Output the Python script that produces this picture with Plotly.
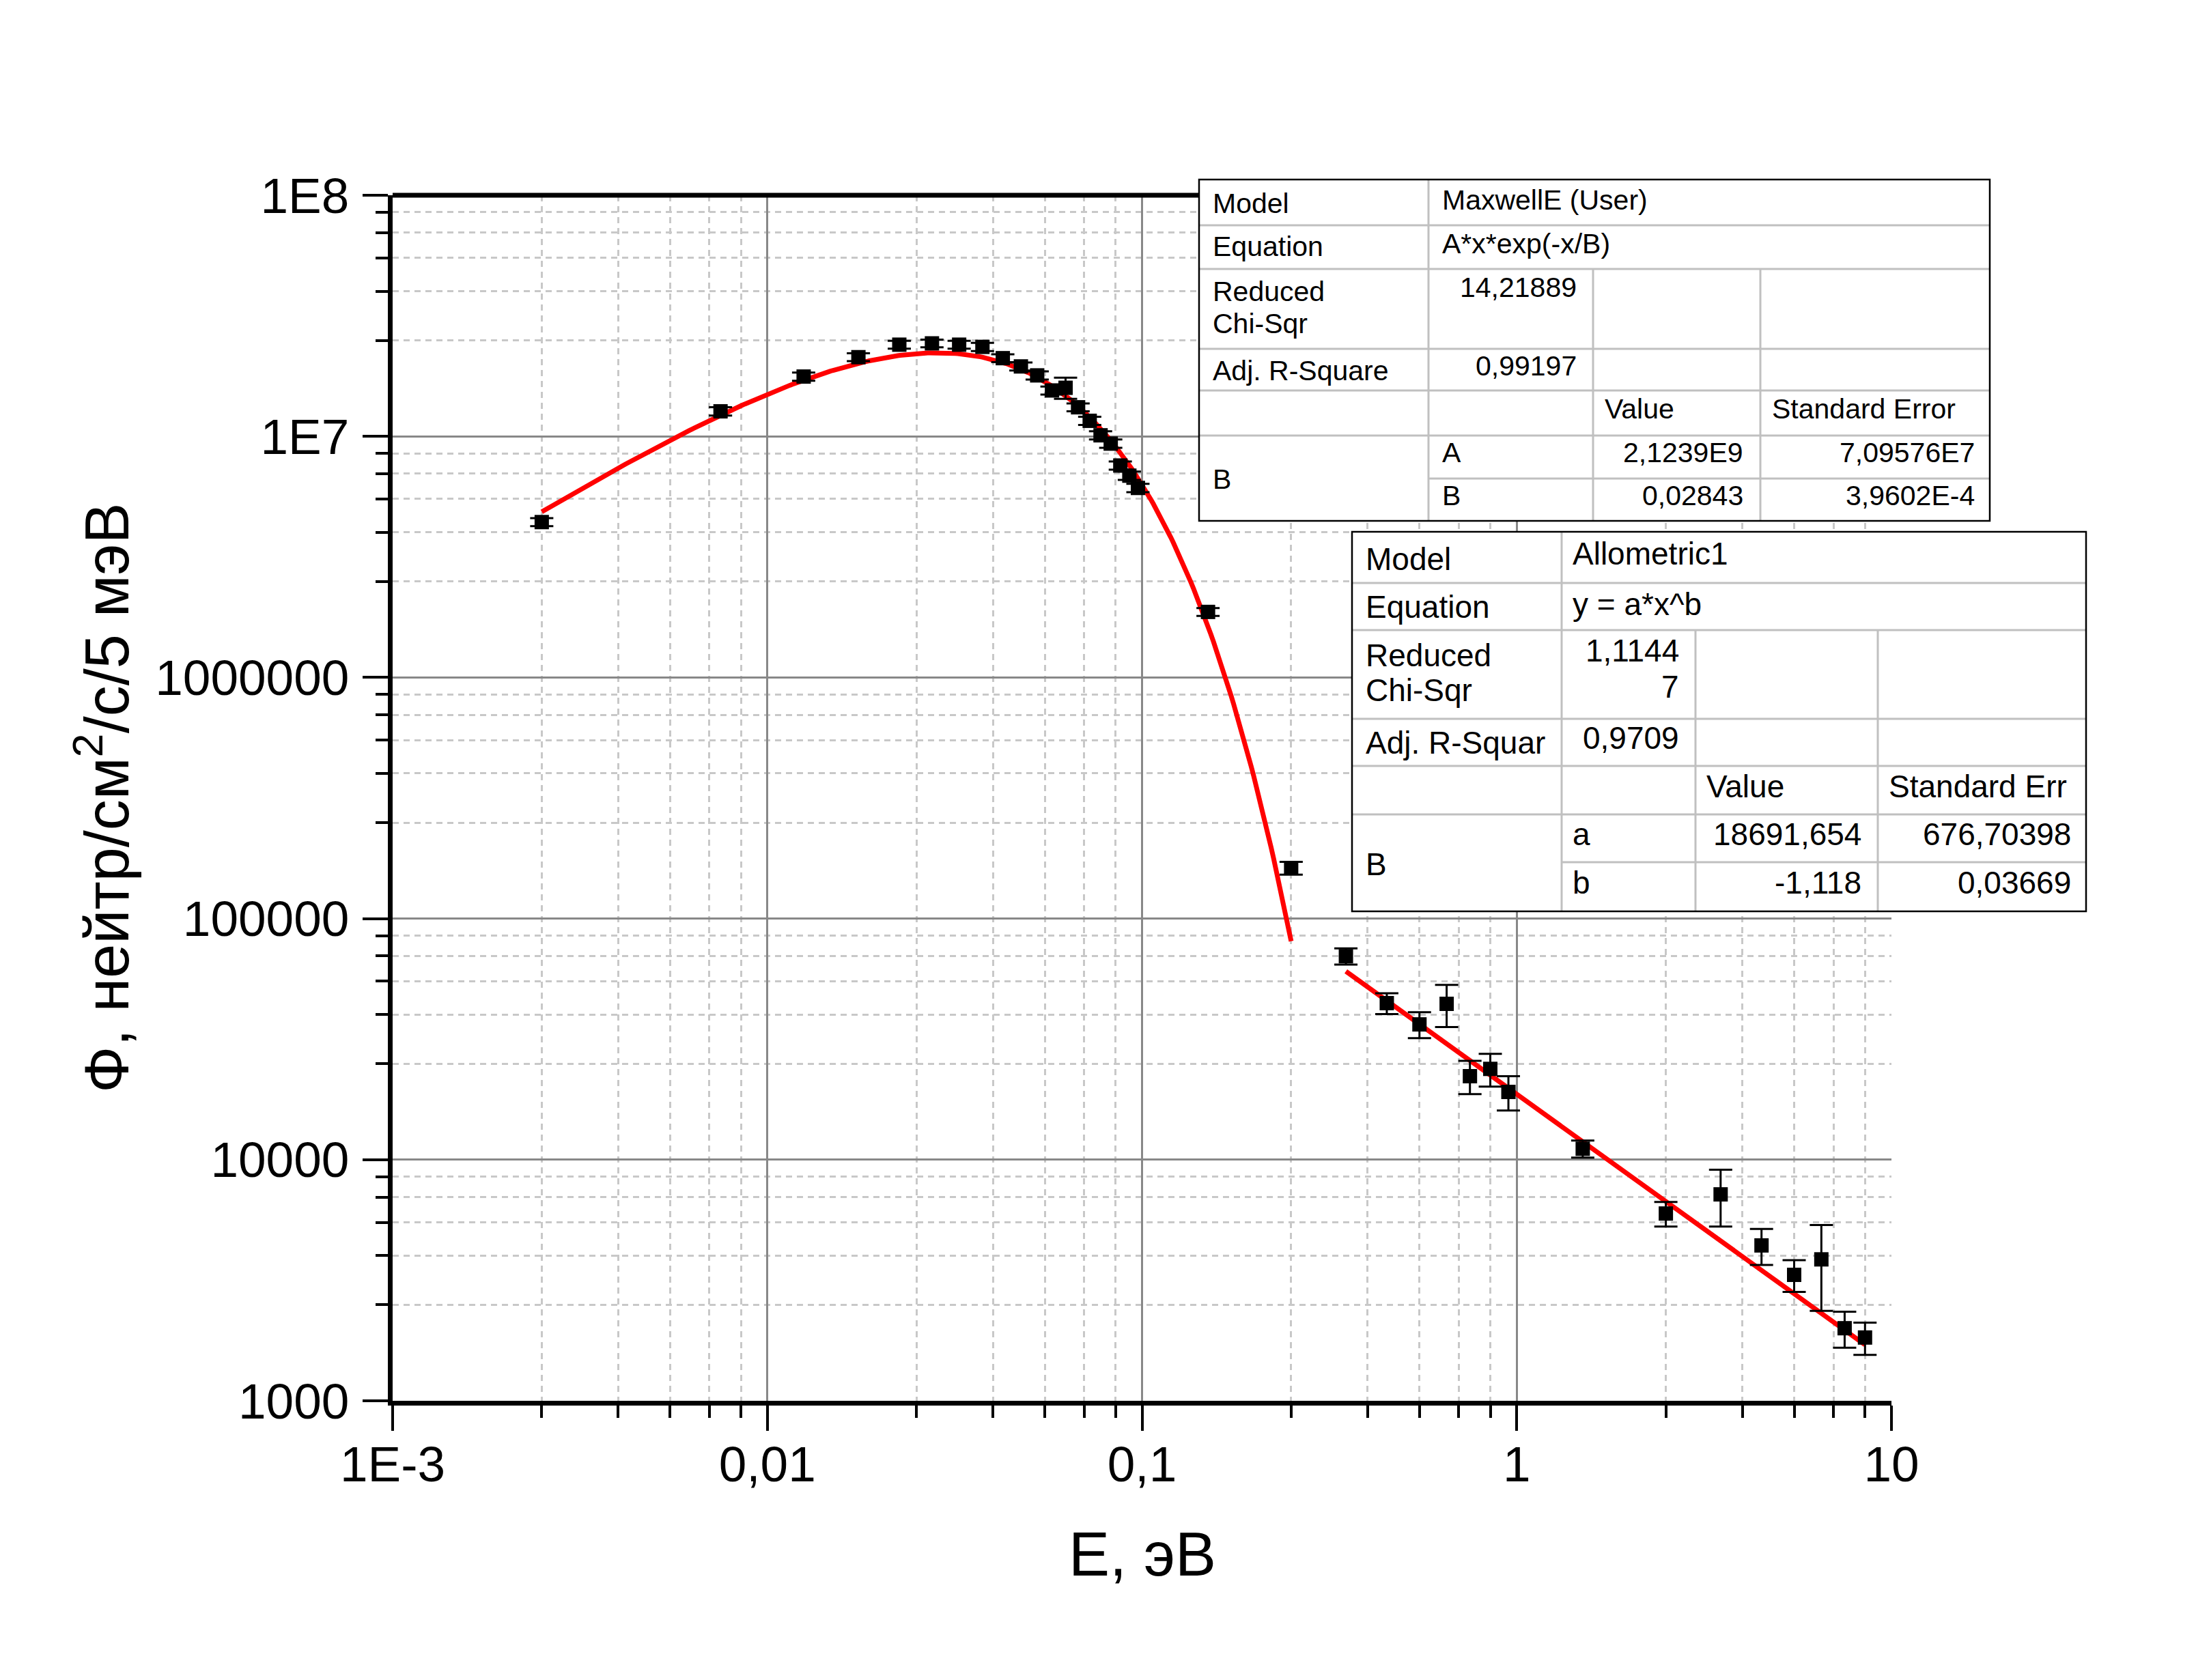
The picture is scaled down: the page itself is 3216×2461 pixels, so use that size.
import numpy as np
import plotly.graph_objects as go

# ---------------- data ----------------
energy = [0.0025, 0.0075, 0.0125, 0.0175, 0.0225, 0.0275, 0.0325, 0.0375, 0.0425, 0.0475,
          0.0525, 0.0575, 0.0625, 0.0675, 0.0725, 0.0775, 0.0825, 0.0875, 0.0925, 0.0975,
          0.15, 0.25, 0.35, 0.45, 0.55, 0.65, 0.75, 0.85, 0.95,
          1.5, 2.5, 3.5, 4.5, 5.5, 6.5, 7.5, 8.5]
flux = [4.41e6, 1.27e7, 1.77e7, 2.13e7, 2.40e7, 2.43e7, 2.40e7, 2.35e7, 2.11e7, 1.95e7,
        1.79e7, 1.55e7, 1.59e7, 1.32e7, 1.16e7, 1.01e7, 9.33e6, 7.57e6, 6.87e6, 6.11e6,
        1.87e6, 1.62e5, 6.98e4, 4.46e4, 3.64e4, 4.43e4, 2.22e4, 2.38e4, 1.91e4,
        1.11e4, 5.98e3, 7.18e3, 4.41e3, 3.33e3, 3.86e3, 2.00e3, 1.83e3]
flux_err = [1.7e5, 5.0e5, 7.0e5, 8.0e5, 9.0e5, 9.0e5, 9.0e5, 9.0e5, 8.0e5, 7.5e5,
            7.0e5, 6.0e5, 1.6e6, 5.0e5, 4.5e5, 4.0e5, 3.7e5, 3.0e5, 2.7e5, 2.4e5,
            7.0e4, 1.0e4, 5.4e3, 4.4e3, 4.5e3, 8.8e3, 3.5e3, 3.7e3, 3.1e3,
            9.0e2, 7.0e2, 1.9e3, 7.5e2, 5.0e2, 1.5e3, 3.4e2, 2.8e2]

# fit parameters shown in the tables
maxwell_A = 2.1239e9
maxwell_B = 0.02843
maxwell_range = [0.0025, 0.25]
allo_a = 18691.654
allo_b = -1.118
allo_range = [0.35, 8.5]

x_tickvals = [0.001, 0.01, 0.1, 1, 10]
x_ticktext = ["1E-3", "0,01", "0,1", "1", "10"]
y_tickvals = [1e3, 1e4, 1e5, 1e6, 1e7, 1e8]
y_ticktext = ["1000", "10000", "100000", "1000000", "1E7", "1E8"]
minor_mult = [2.5, 4, 5.5, 7, 8.5]

x_title = "E, эВ"
y_title = "Ф, нейтр/см<sup>2</sup>/с/5 мэВ"

# ---------------- figure ----------------
W_PX, H_PX = 3216, 2461
PAGE_OFF = 8                      # default body margin of the html page
PLOT_L, PLOT_R, PLOT_T, PLOT_B = 575, 2770, 286, 2052   # plot area in screen px
L = PLOT_L - PAGE_OFF
T = PLOT_T - PAGE_OFF
PW = PLOT_R - PLOT_L
PH = PLOT_B - PLOT_T
R = W_PX - L - PW
B = H_PX - T - PH
FONT = "Liberation Sans, Arial, sans-serif"


def fx(px):
    return (px - PLOT_L) / PW


def fy(py):
    return (PLOT_B - py) / PH


fig = go.Figure()

# fit curves (model functions with the fitted parameters)
xm = np.logspace(np.log10(maxwell_range[0]), np.log10(maxwell_range[1]), 300)
ym = maxwell_A * xm * np.exp(-xm / maxwell_B)
fig.add_trace(go.Scatter(x=xm, y=ym, mode="lines", line=dict(color="#ff0000", width=7),
                         showlegend=False, hoverinfo="skip"))
xa = np.logspace(np.log10(allo_range[0]), np.log10(allo_range[1]), 100)
ya = allo_a * xa ** allo_b
fig.add_trace(go.Scatter(x=xa, y=ya, mode="lines", line=dict(color="#ff0000", width=7),
                         showlegend=False, hoverinfo="skip"))

fig.add_trace(go.Scatter(
    x=energy, y=flux, mode="markers",
    marker=dict(symbol="square", size=21, color="black"),
    error_y=dict(type="data", array=flux_err, symmetric=True, color="black",
                 thickness=3, width=17),
    showlegend=False))

x_minor = [m * 10.0 ** k for k in range(-3, 1) for m in minor_mult]
y_minor = [m * 10.0 ** k for k in range(3, 8) for m in minor_mult]

axis_common = dict(
    showline=True, linecolor="black", linewidth=7,
    ticks="outside", ticklen=37, tickwidth=4, tickcolor="black",
    showgrid=True, gridcolor="#888888", gridwidth=3,
    zeroline=False,
    tickfont=dict(family=FONT, size=73, color="black"),
)

fig.update_xaxes(type="log", range=[-3, 1], tickmode="array", tickvals=x_tickvals,
                 ticktext=x_ticktext, ticklabelstandoff=-14,
                 minor=dict(tickmode="array", tickvals=x_minor, ticks="outside", ticklen=18,
                            tickwidth=4, tickcolor="black", showgrid=True,
                            gridcolor="#c8c8c8", gridwidth=2.5, griddash="9px,7px"),
                 **axis_common)
fig.update_yaxes(type="log", range=[3, 8], tickmode="array", tickvals=y_tickvals,
                 ticktext=y_ticktext, ticklabelstandoff=5,
                 minor=dict(tickmode="array", tickvals=y_minor, ticks="outside", ticklen=18,
                            tickwidth=4, tickcolor="black", showgrid=True,
                            gridcolor="#c8c8c8", gridwidth=2.5, griddash="9px,7px"),
                 **axis_common)

shapes = []
# top border line of the frame
shapes.append(dict(type="line", xref="paper", yref="paper", x0=0, x1=1, y0=1, y1=1,
                   line=dict(color="black", width=7), layer="above"))

GRAY = "#c0c0c0"


def add_table(left, right, top, bottom, cols, rows, split_row):
    c1, c2, c3 = cols
    shapes.append(dict(type="rect", xref="paper", yref="paper",
                       x0=fx(left), x1=fx(right), y0=fy(bottom), y1=fy(top),
                       fillcolor="white", line=dict(width=0), layer="above"))
    for r in rows:
        x0 = c1 if r == split_row else left
        shapes.append(dict(type="line", xref="paper", yref="paper", x0=fx(x0), x1=fx(right),
                           y0=fy(r), y1=fy(r), line=dict(color=GRAY, width=3), layer="above"))
    shapes.append(dict(type="line", xref="paper", yref="paper", x0=fx(c1), x1=fx(c1),
                       y0=fy(top), y1=fy(bottom), line=dict(color=GRAY, width=3), layer="above"))
    for c in (c2, c3):
        shapes.append(dict(type="line", xref="paper", yref="paper", x0=fx(c), x1=fx(c),
                           y0=fy(rows[1]), y1=fy(bottom), line=dict(color=GRAY, width=3),
                           layer="above"))
    shapes.append(dict(type="rect", xref="paper", yref="paper",
                       x0=fx(left), x1=fx(right), y0=fy(bottom), y1=fy(top),
                       line=dict(color="black", width=2.5), layer="above"))


add_table(1756, 2914, 263, 763, (2092, 2333, 2578), [330, 394, 511, 572, 638, 701], 701)
add_table(1980, 3055, 779, 1335, (2287, 2483, 2750), [854, 923, 1053, 1122, 1193, 1263], 1263)

annotations = []


def txt(s, px, py, anchor, size):
    annotations.append(dict(text=s, xref="paper", yref="paper", x=fx(px), y=fy(py),
                            xanchor=anchor, yanchor="middle", showarrow=False,
                            font=dict(family=FONT, size=size, color="black")))


# table 1 (MaxwellE)
s1 = 41
txt("Model", 1774, 298, "left", s1)
txt("MaxwellE (User)", 2110, 293, "left", s1)
txt("Equation", 1774, 361, "left", s1)
txt("A*x*exp(-x/B)", 2110, 357, "left", s1)
txt("Reduced", 1774, 427, "left", s1)
txt("Chi-Sqr", 1774, 474, "left", s1)
txt("14,21889", 2311, 421, "right", s1)
txt("Adj. R-Square", 1774, 543, "left", s1)
txt("0,99197", 2311, 536, "right", s1)
txt("Value", 2348, 599, "left", s1)
txt("Standard Error", 2593, 599, "left", s1)
txt("A", 2110, 663, "left", s1)
txt("2,1239E9", 2555, 663, "right", s1)
txt("7,09576E7", 2894, 663, "right", s1)
txt("B", 1774, 702, "left", s1)
txt("B", 2110, 726, "left", s1)
txt("0,02843", 2555, 726, "right", s1)
txt("3,9602E-4", 2894, 726, "right", s1)

# table 2 (Allometric1)
s2 = 46
txt("Model", 1998, 819, "left", s2)
txt("Allometric1", 2301, 811, "left", s2)
txt("Equation", 1998, 889, "left", s2)
txt("y = a*x^b", 2301, 885, "left", s2)
txt("Reduced", 1998, 960, "left", s2)
txt("Chi-Sqr", 1998, 1011, "left", s2)
txt("1,1144", 2461, 953, "right", s2)
txt("7", 2461, 1006, "right", s2)
txt("Adj. R-Squar", 1998, 1088, "left", s2)
txt("0,9709", 2461, 1081, "right", s2)
txt("Value", 2497, 1152, "left", s2)
txt("Standard Err", 2764, 1152, "left", s2)
txt("a", 2301, 1222, "left", s2)
txt("18691,654", 2728, 1222, "right", s2)
txt("676,70398", 3035, 1222, "right", s2)
txt("B", 1998, 1266, "left", s2)
txt("b", 2301, 1293, "left", s2)
txt("-1,118", 2728, 1293, "right", s2)
txt("0,03669", 3035, 1293, "right", s2)

# axis titles
annotations.append(dict(text=x_title, xref="paper", yref="paper", x=0.5, y=fy(2277),
                        xanchor="center", yanchor="middle", showarrow=False,
                        font=dict(family=FONT, size=90, color="black")))
annotations.append(dict(text=y_title, xref="paper", yref="paper", x=fx(150), y=0.5,
                        xanchor="center", yanchor="middle", showarrow=False, textangle=-90,
                        font=dict(family=FONT, size=90, color="black")))

fig.update_layout(
    width=W_PX, height=H_PX,
    margin=dict(l=L, r=R, t=T, b=B, autoexpand=False),
    paper_bgcolor="white", plot_bgcolor="white",
    shapes=shapes, annotations=annotations,
    showlegend=False,
)

fig.write_html("out.html")
